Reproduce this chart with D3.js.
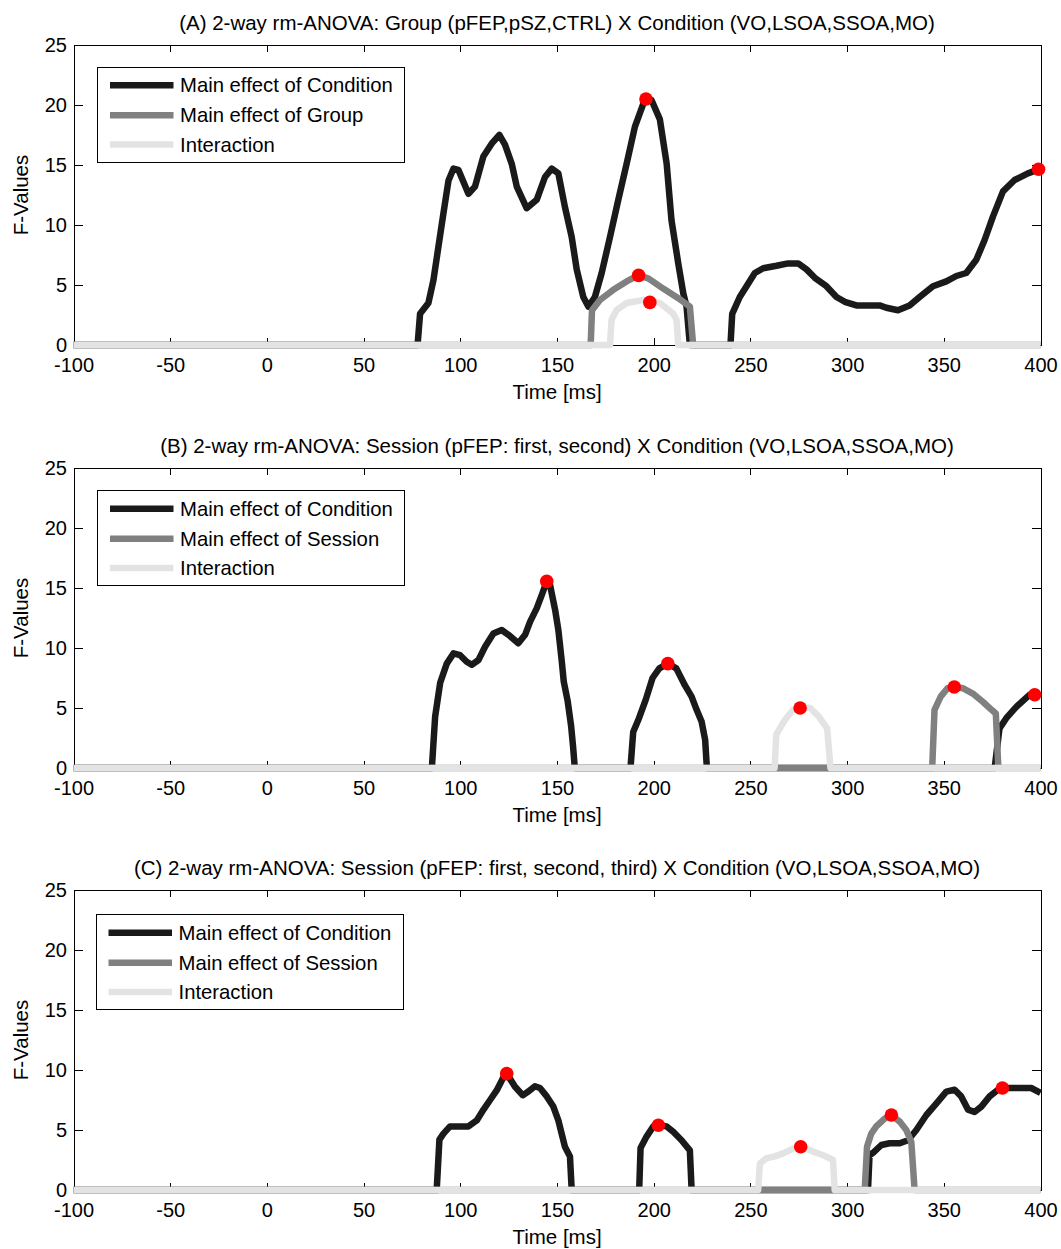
<!DOCTYPE html>
<html>
<head>
<meta charset="utf-8">
<script src="https://cdn.jsdelivr.net/npm/d3@7"></script>
<style>
  body { margin: 0; background: #fff; }
  svg { display: block; }
  text { font-family: "Liberation Sans", Arial, Helvetica, sans-serif; fill: #000; }
</style>
</head>
<body>
<svg id="chart" width="1061" height="1249"></svg>
<script>
// ---- tick values ----
const timeTicks = [-100, -50, 0, 50, 100, 150, 200, 250, 300, 350, 400];
const fTicks = [0, 5, 10, 15, 20, 25];

// ---- (A) Group x Condition ----
const titleA = "(A) 2-way rm-ANOVA: Group (pFEP,pSZ,CTRL) X Condition (VO,LSOA,SSOA,MO)";
const legendA = ["Main effect of Condition", "Main effect of Group", "Interaction"];
const conditionA = [[-100,0],[77.9,0],[79.2,2.6],[83.5,3.5],[86.1,5.4],[88.7,8.2],[91.3,11.0],[93.9,13.7],[96.5,14.7],[99.0,14.6],[104.2,12.6],[107.6,13.2],[111.9,15.7],[116.3,16.8],[120.2,17.5],[123.1,16.7],[126.6,15.1],[129.2,13.2],[134.3,11.4],[139.5,12.1],[143.8,14.0],[147.3,14.7],[150.7,14.3],[154.1,11.5],[157.6,9.0],[160.2,6.3],[163.6,4.0],[166.2,3.2],[169.6,4.0],[173.1,6.0],[177.4,9.0],[181.7,12.1],[186.0,15.1],[190.3,18.2],[194.6,20.1],[197.2,20.55],[198.9,20.4],[203.2,18.8],[206.7,15.1],[209.2,10.4],[212.7,6.8],[215.3,4.3],[217.0,3.2],[218.7,0],[239.7,0],[240.6,2.6],[244.5,4.0],[248.0,4.9],[252.3,6.0],[256.6,6.4],[263.5,6.6],[269.5,6.8],[274.7,6.8],[279.0,6.3],[283.3,5.6],[289.3,4.9],[294.5,4.0],[298.8,3.6],[304.8,3.3],[311.7,3.3],[316.8,3.3],[320.3,3.1],[326.3,2.9],[332.3,3.3],[337.5,4.0],[344.4,4.9],[351.3,5.3],[356.5,5.75],[361.6,6.0],[366.8,7.1],[371.1,8.75],[375.4,10.7],[380.6,12.8],[386.6,13.75],[393.5,14.3],[398.6,14.6],[400,14.7]];
const groupA = [[-100,0],[167.4,0],[168.1,2.9],[172.2,3.75],[179.1,4.6],[186.0,5.3],[192.0,5.8],[197.2,5.55],[204.9,4.7],[212.7,3.9],[218.7,3.2],[220.4,0],[400,0]];
const interactionA = [[-100,0],[177.4,0],[178.2,2.1],[180.8,2.9],[186.0,3.5],[194.6,3.75],[203.2,3.5],[210.1,2.6],[211.8,2.1],[212.7,0],[400,0]];
const peaksA = [[196,20.5],[192.2,5.8],[198,3.55],[399,14.65]];

// ---- (B) Session (two) x Condition ----
const titleB = "(B) 2-way rm-ANOVA: Session (pFEP: first, second) X Condition (VO,LSOA,SSOA,MO)";
const legendB = ["Main effect of Condition", "Main effect of Session", "Interaction"];
const conditionB = [[-100,0],[85.3,0],[87.0,4.3],[89.6,7.1],[93.0,8.7],[96.5,9.55],[99.9,9.4],[103.3,8.85],[105.9,8.6],[109.4,9.0],[112.8,10.1],[117.1,11.2],[121.4,11.5],[124.9,11.1],[130.0,10.4],[133.5,11.1],[136.1,12.2],[139.5,13.3],[142.1,14.4],[144.7,15.55],[146.4,15.25],[149.0,13.2],[150.7,11.5],[152.4,9.0],[153.5,7.2],[155.5,5.6],[157.3,3.5],[158.3,1.8],[159.2,0],[188.0,0],[189.4,3.0],[192.4,4.15],[195.9,5.7],[199.4,7.5],[202.9,8.3],[207.3,8.7],[211.7,8.3],[216.1,6.9],[219.6,5.95],[222.2,4.85],[224.8,3.85],[226.6,2.35],[227.5,0],[376.3,0],[378.8,3.3],[382.3,4.15],[387.5,5.1],[394.3,6.1],[398,6.1]];
const sessionB = [[-100,0],[344.0,0],[345.2,4.85],[348.4,5.95],[351.9,6.65],[355.4,6.8],[359.8,6.65],[365.0,6.2],[370.3,5.5],[374.7,4.85],[376.9,4.55],[378.2,0],[400,0]];
const interactionB = [[-100,0],[262.5,0],[263.4,2.8],[267.8,4.0],[272.1,4.85],[275.7,5.1],[280.9,5.0],[285.3,4.3],[289.7,3.3],[291.4,0],[400,0]];
const peaksB = [[144.7,15.55],[207.3,8.7],[275.7,5.0],[355.4,6.75],[397,6.1]];

// ---- (C) Session (three) x Condition ----
const titleC = "(C) 2-way rm-ANOVA: Session (pFEP: first, second, third) X Condition (VO,LSOA,SSOA,MO)";
const legendC = ["Main effect of Condition", "Main effect of Session", "Interaction"];
const conditionC = [[-100,0],[87.8,0],[89.2,4.2],[91.3,4.7],[94.7,5.3],[99.9,5.3],[104.2,5.3],[108.5,5.8],[112.0,6.7],[115.4,7.5],[118.8,8.3],[122.3,9.4],[124.0,9.7],[128.3,8.6],[132.3,7.9],[135.2,8.2],[138.6,8.65],[141.2,8.5],[144.7,7.8],[148.1,6.95],[150.7,5.8],[152.4,4.7],[154.1,3.6],[156.7,2.8],[157.6,0],[192.5,0],[193.2,3.5],[196.3,4.45],[199.8,5.3],[202.4,5.4],[206.7,5.3],[210.1,4.85],[214.4,4.15],[218.7,3.3],[219.6,0],[310.8,0],[311.6,2.9],[313.4,3.1],[317.7,3.75],[322.0,3.9],[327.2,3.9],[331.5,4.15],[335.8,5.0],[341.0,6.25],[346.1,7.2],[351.3,8.2],[355.6,8.35],[359.0,7.8],[362.5,6.7],[365.9,6.5],[369.4,6.95],[373.7,7.8],[378.0,8.35],[380.6,8.5],[387.5,8.5],[395.2,8.5],[400,8.1]];
const sessionC = [[-100,0],[309.1,0],[310.3,3.6],[312.5,4.7],[315.1,5.3],[319.4,5.95],[322.9,6.25],[327.2,5.7],[330.6,5.0],[333.2,4.0],[334.9,0],[400,0]];
const interactionC = [[-100,0],[254.0,0],[254.9,2.2],[258.3,2.65],[262.6,2.8],[266.9,3.05],[272.1,3.45],[276.4,3.6],[282.4,3.2],[287.6,2.9],[292.7,2.5],[293.6,0],[400,0]];
const peaksC = [[124,9.7],[202.4,5.4],[276,3.6],[322.9,6.25],[380.3,8.5]];

const panels = [
  { title: titleA, legend: legendA, cond: conditionA, main: groupA, inter: interactionA, peaks: peaksA },
  { title: titleB, legend: legendB, cond: conditionB, main: sessionB, inter: interactionB, peaks: peaksB },
  { title: titleC, legend: legendC, cond: conditionC, main: sessionC, inter: interactionC, peaks: peaksC }
];

// ---- layout ----
const plotLeft = 73.5, plotRight = 1040.5, plotHeight = 300;
const panelTops = [45, 468, 890];
const legendOffsetY = [22, 22.5, 24.5];
const legendX = [97.5, 97.5, 96];
const legendW = 307, legendH = 95;
const legendRows = [18.3, 48.2, 77.5];
const lineColors = ["#1a1a1a", "#808080", "#e3e3e3"];
const lineWidth = 6.5;

const svg = d3.select("#chart");
const x = d3.scaleLinear().domain([-100, 400]).range([plotLeft, plotRight]);
const cx = (plotLeft + plotRight) / 2;
const plainNumber = d => String(d); // hyphen-minus, as in the tick labels

panels.forEach((p, i) => {
  const top = panelTops[i], bottom = top + plotHeight;
  const y = d3.scaleLinear().domain([0, 25]).range([bottom, top]);
  const g = svg.append("g");

  // axes box with inward ticks
  const styleAxis = sel => sel.attr("font-size", 20)
    .attr("font-family", '"Liberation Sans", Arial, sans-serif')
    .attr("shape-rendering", "crispEdges");

  g.append("g").attr("transform", `translate(0,${bottom})`)
    .call(d3.axisBottom(x).tickValues(timeTicks).tickFormat(plainNumber)
      .tickSizeInner(-7).tickSizeOuter(0).tickPadding(12.3))
    .call(styleAxis);
  g.append("g").attr("transform", `translate(0,${top})`)
    .call(d3.axisTop(x).tickValues(timeTicks).tickSizeInner(-7).tickSizeOuter(0).tickFormat(""))
    .call(styleAxis);
  g.append("g").attr("transform", `translate(${plotLeft},0)`)
    .call(d3.axisLeft(y).tickValues(fTicks).tickFormat(plainNumber)
      .tickSizeInner(-9).tickSizeOuter(0).tickPadding(6.5))
    .call(styleAxis);
  g.append("g").attr("transform", `translate(${plotRight},0)`)
    .call(d3.axisRight(y).tickValues(fTicks).tickSizeInner(-9).tickSizeOuter(0).tickFormat(""))
    .call(styleAxis);
  g.selectAll(".tick text").attr("fill", "#000");

  // F-value curves: condition, main effect, interaction (interaction on top)
  const line = d3.line().x(d => x(d[0])).y(d => y(d[1]));
  [p.cond, p.main, p.inter].forEach((series, k) => {
    g.append("path")
      .attr("d", line(series))
      .attr("fill", "none")
      .attr("stroke", lineColors[k])
      .attr("stroke-width", lineWidth)
      .attr("stroke-linejoin", "round")
      .attr("stroke-linecap", "butt");
  });

  // peak markers
  g.selectAll("circle.peak").data(p.peaks).enter().append("circle")
    .attr("class", "peak")
    .attr("cx", d => x(d[0]))
    .attr("cy", d => y(d[1]))
    .attr("r", 6.8)
    .attr("fill", "#ff0000");

  // title and axis labels
  g.append("text").attr("x", cx).attr("y", top - 15.5)
    .attr("text-anchor", "middle").attr("font-size", 20.5).text(p.title);
  g.append("text").attr("x", cx).attr("y", bottom + 54)
    .attr("text-anchor", "middle").attr("font-size", 20.5).text("Time [ms]");
  g.append("text")
    .attr("transform", `translate(28,${(top + bottom) / 2}) rotate(-90)`)
    .attr("text-anchor", "middle").attr("font-size", 20.5).text("F-Values");

  // legend
  const lx = legendX[i], ly = top + legendOffsetY[i];
  const lg = g.append("g");
  lg.append("rect").attr("x", lx).attr("y", ly).attr("width", legendW).attr("height", legendH)
    .attr("fill", "#fff").attr("stroke", "#000").attr("stroke-width", 1)
    .attr("shape-rendering", "crispEdges");
  p.legend.forEach((label, k) => {
    const ry = ly + legendRows[k];
    lg.append("line").attr("x1", lx + 12.5).attr("x2", lx + 76).attr("y1", ry).attr("y2", ry)
      .attr("stroke", lineColors[k]).attr("stroke-width", 6.5);
    lg.append("text").attr("x", lx + 82.5).attr("y", ry + 7).attr("font-size", 20.3).text(label);
  });
});
</script>
</body>
</html>
